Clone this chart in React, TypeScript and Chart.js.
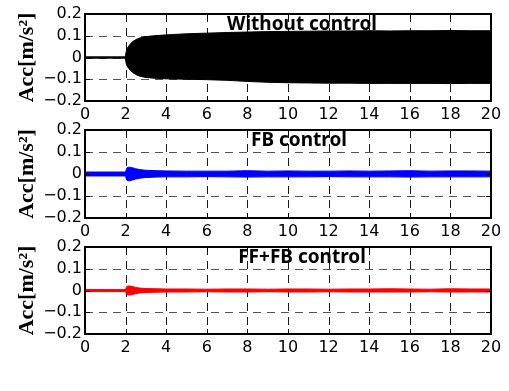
import React, { useEffect, useRef } from "react";
import { Chart, registerables } from "chart.js";

Chart.register(...registerables);

// ---- axes ----
const X_TICK_VALUES = [0, 2, 4, 6, 8, 10, 12, 14, 16, 18, 20];
const X_TICK_LABELS = ["0", "2", "4", "6", "8", "10", "12", "14", "16", "18", "20"];
const Y_TICK_VALUES = [-0.2, -0.1, 0, 0.1, 0.2];
const Y_TICK_LABELS = ["\u22120.2", "\u22120.1", "0", "0.1", "0.2"];

const PANEL_TITLES = ["Without control", "FB control", "FF+FB control"];
const Y_TITLE = "Acc[m/s\u00b2]";
const X_TITLE = "Time[s]";

// ---- signal envelopes (time [s], acc [m/s^2]) ----
const timeNoControl = [0, 1.98, 2.0, 2.03, 2.08, 2.15, 2.25, 2.35, 2.5, 2.7, 3.0, 3.4, 4.0, 5.0, 6.0, 7.0, 8.0, 9.0, 10, 11, 12, 13, 14, 15, 16, 17, 18, 19, 20];
const upperNoControl = [0.003, 0.003, 0.012, 0.028, 0.042, 0.052, 0.064, 0.073, 0.082, 0.09, 0.096, 0.1, 0.104, 0.109, 0.112, 0.115, 0.117, 0.119, 0.12, 0.121, 0.122, 0.122, 0.123, 0.122, 0.123, 0.123, 0.124, 0.123, 0.123];
const lowerNoControl = [-0.003, -0.003, -0.012, -0.028, -0.04, -0.05, -0.06, -0.069, -0.078, -0.086, -0.092, -0.095, -0.098, -0.1, -0.102, -0.105, -0.11, -0.114, -0.116, -0.117, -0.118, -0.118, -0.119, -0.119, -0.119, -0.119, -0.12, -0.119, -0.119];

const timeControlled = [0, 2.0, 2.03, 2.08, 2.2, 2.35, 2.5, 2.7, 3.0, 3.5, 4, 5, 6, 7, 8, 9, 10, 11, 12, 13, 14, 15, 16, 17, 18, 19, 20];
const upperFB = [0.009, 0.009, 0.02, 0.03, 0.031, 0.028, 0.024, 0.02, 0.017, 0.015, 0.014, 0.013, 0.013, 0.013, 0.015, 0.013, 0.014, 0.013, 0.013, 0.014, 0.013, 0.014, 0.015, 0.013, 0.014, 0.014, 0.013];
const lowerFB = [-0.009, -0.009, -0.02, -0.03, -0.031, -0.027, -0.023, -0.019, -0.016, -0.014, -0.013, -0.013, -0.012, -0.013, -0.014, -0.013, -0.013, -0.013, -0.012, -0.013, -0.013, -0.013, -0.014, -0.013, -0.013, -0.013, -0.013];
const upperFFFB = [0.005, 0.005, 0.014, 0.02, 0.021, 0.018, 0.014, 0.011, 0.009, 0.008, 0.007, 0.007, 0.006, 0.007, 0.007, 0.006, 0.007, 0.007, 0.006, 0.007, 0.007, 0.008, 0.007, 0.006, 0.008, 0.007, 0.007];
const lowerFFFB = [-0.005, -0.005, -0.014, -0.02, -0.021, -0.018, -0.014, -0.011, -0.009, -0.008, -0.007, -0.007, -0.006, -0.007, -0.007, -0.006, -0.007, -0.007, -0.006, -0.007, -0.007, -0.007, -0.007, -0.006, -0.007, -0.007, -0.007];

const toPoints = (t: number[], v: number[]) => t.map((x, i) => ({ x, y: v[i] }));

type Panel = {
  title: string;
  titleX: number;
  color: string;
  time: number[];
  upper: number[];
  lower: number[];
  top: number;
  areaH: number;
  canvasH: number;
  xTitle: boolean;
};

const PANELS: Panel[] = [
  { title: PANEL_TITLES[0], titleX: 302, color: "#000000", time: timeNoControl, upper: upperNoControl, lower: lowerNoControl, top: 0, areaH: 87, canvasH: 125, xTitle: false },
  { title: PANEL_TITLES[1], titleX: 299, color: "#0000ff", time: timeControlled, upper: upperFB, lower: lowerFB, top: 116, areaH: 88, canvasH: 126, xTitle: false },
  { title: PANEL_TITLES[2], titleX: 302, color: "#ff0000", time: timeControlled, upper: upperFFFB, lower: lowerFFFB, top: 233, areaH: 87, canvasH: 158, xTitle: true },
];

const PAD_TOP = 14;
const TICK_FONT = { family: "DejaVu Sans", size: 16 };

const decorPlugin = {
  id: "panelDecor",
  beforeDatasetsDraw(chart: any) {
    const { ctx, chartArea } = chart;
    const { left, right, top, bottom } = chartArea;
    const xs = chart.scales.x;
    const ys = chart.scales.y;
    ctx.save();
    ctx.lineWidth = 1;
    ctx.setLineDash([8, 6]);
    // vertical dashed grid
    ctx.strokeStyle = "#1a1a1a";
    ctx.beginPath();
    X_TICK_VALUES.forEach((v) => {
      const px = Math.round(xs.getPixelForValue(v)) + 0.5;
      ctx.moveTo(px, top);
      ctx.lineTo(px, bottom);
    });
    ctx.stroke();
    // horizontal dashed grid
    ctx.strokeStyle = "#555";
    ctx.beginPath();
    Y_TICK_VALUES.forEach((v) => {
      const py = Math.round(ys.getPixelForValue(v)) + 0.5;
      ctx.moveTo(left, py);
      ctx.lineTo(right, py);
    });
    ctx.stroke();
    ctx.restore();
  },
  afterDatasetsDraw(chart: any, _args: any, opts: any) {
    const { ctx, chartArea } = chart;
    const { left, right, top, bottom } = chartArea;
    const xs = chart.scales.x;
    const ys = chart.scales.y;
    ctx.save();
    // inward ticks
    ctx.strokeStyle = "#000";
    ctx.lineWidth = 1;
    ctx.setLineDash([]);
    ctx.beginPath();
    X_TICK_VALUES.forEach((v) => {
      const px = Math.round(xs.getPixelForValue(v)) + 0.5;
      ctx.moveTo(px, bottom);
      ctx.lineTo(px, bottom - 5);
      ctx.moveTo(px, top);
      ctx.lineTo(px, top + 5);
    });
    Y_TICK_VALUES.forEach((v) => {
      const py = Math.round(ys.getPixelForValue(v)) + 0.5;
      ctx.moveTo(left, py);
      ctx.lineTo(left + 5, py);
      ctx.moveTo(right, py);
      ctx.lineTo(right - 5, py);
    });
    ctx.stroke();
    // box
    ctx.lineWidth = 2;
    ctx.strokeRect(left, top, right - left, bottom - top);
    // panel title
    ctx.fillStyle = "#000";
    ctx.font = 'bold 19px "Noto Sans"';
    ctx.textAlign = "center";
    ctx.textBaseline = "alphabetic";
    ctx.fillText(opts.title, opts.titleX, top + 16);
    if (opts.xTitle) {
      ctx.font = 'bold 22px "Liberation Serif"';
      ctx.fillText(X_TITLE, 296, 386);
    }
    ctx.restore();
  },
};

function makeConfig(p: Panel): any {
  const xh = p.canvasH - PAD_TOP - p.areaH;
  return {
    type: "line",
    data: {
      datasets: [
        {
          data: toPoints(p.time, p.upper),
          borderColor: p.color,
          backgroundColor: p.color,
          borderWidth: 1,
          pointRadius: 0,
          tension: 0,
          fill: "+1",
        },
        {
          data: toPoints(p.time, p.lower),
          borderColor: p.color,
          backgroundColor: p.color,
          borderWidth: 1,
          pointRadius: 0,
          tension: 0,
          fill: false,
        },
      ],
    },
    plugins: [decorPlugin],
    options: {
      responsive: false,
      animation: false,
      events: [],
      layout: { padding: { top: PAD_TOP, right: 18, left: 0, bottom: 0 } },
      plugins: {
        legend: { display: false },
        tooltip: { enabled: false },
        panelDecor: { title: p.title, titleX: p.titleX, xTitle: p.xTitle },
      },
      scales: {
        x: {
          type: "linear",
          min: 0,
          max: 20,
          afterBuildTicks: (s: any) => {
            s.ticks = X_TICK_VALUES.map((value) => ({ value }));
          },
          afterFit: (s: any) => {
            s.height = xh;
          },
          ticks: {
            font: TICK_FONT,
            color: "#000",
            padding: 4,
            maxRotation: 0,
            autoSkip: false,
            callback: (_v: any, i: number) => X_TICK_LABELS[i],
          },
          grid: { display: false, drawTicks: false },
          border: { display: false },
        },
        y: {
          type: "linear",
          min: -0.2,
          max: 0.2,
          afterBuildTicks: (s: any) => {
            s.ticks = Y_TICK_VALUES.map((value) => ({ value }));
          },
          afterFit: (s: any) => {
            s.width = 85;
          },
          ticks: {
            font: TICK_FONT,
            color: "#000",
            padding: 3,
            autoSkip: false,
            callback: (_v: any, i: number) => Y_TICK_LABELS[i],
          },
          grid: { display: false, drawTicks: false },
          border: { display: false },
          title: {
            display: true,
            text: Y_TITLE,
            color: "#000",
            font: { family: "Liberation Serif", weight: "bold", size: 22 },
            padding: { top: 14, bottom: 0 },
          },
        },
      },
    },
  };
}

export default function App() {
  const refs = [useRef<HTMLCanvasElement>(null), useRef<HTMLCanvasElement>(null), useRef<HTMLCanvasElement>(null)];
  useEffect(() => {
    const charts = PANELS.map((p, i) => new Chart(refs[i].current as HTMLCanvasElement, makeConfig(p)));
    return () => charts.forEach((c) => c.destroy());
  }, []);
  return (
    <div style={{ position: "fixed", left: 0, top: 0, width: 509, height: 391, background: "#fff", overflow: "hidden" }}>
      {PANELS.map((p, i) => (
        <canvas
          key={i}
          ref={refs[i]}
          width={509}
          height={p.canvasH}
          style={{ position: "absolute", left: 0, top: p.top, width: 509, height: p.canvasH }}
        />
      ))}
    </div>
  );
}
